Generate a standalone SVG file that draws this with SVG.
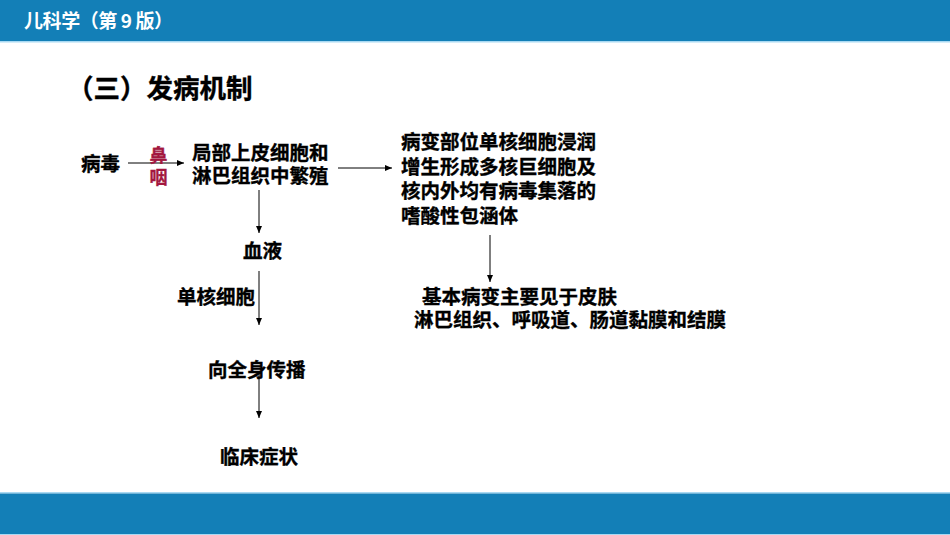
<svg xmlns="http://www.w3.org/2000/svg" width="950" height="535" viewBox="0 0 950 535">
<style>
.t{font-family:"Noto Sans CJK SC","Microsoft YaHei",sans-serif;font-weight:bold;fill:#000;stroke:#000;stroke-width:0.35}
.b{font-size:19.5px}
.red{fill:#a3173f;stroke:#a3173f;font-size:18px}
.hdr{font-family:"Noto Sans CJK SC",sans-serif;font-weight:bold;fill:#fff;font-size:19px}
.c{stroke:#000;stroke-width:1;fill:none;marker-end:url(#ah)}
</style>
<defs>
<marker id="ah" markerUnits="userSpaceOnUse" markerWidth="8" markerHeight="8" refX="7" refY="3" orient="auto">
<path d="M0,0 L7,3 L0,6 Z" fill="#000"/>
</marker>
</defs>
<rect width="950" height="535" fill="#fff"/>
<g id="header">
<rect x="0" y="0" width="950" height="41" fill="#137fb7"/>
<rect x="0" y="41" width="950" height="1.5" fill="#a9d9f2"/>
<text class="hdr" x="24" y="28" textLength="149" lengthAdjust="spacing">儿科学（第 9 版）</text>
</g>
<g id="footer">
<rect x="0" y="492" width="950" height="1.5" fill="#a9d9f2"/>
<rect x="0" y="493.5" width="950" height="40.5" fill="#137fb7"/>
<rect x="0" y="534" width="950" height="1" fill="#a9d9f2"/>
</g>
<text id="title" class="t" x="67" y="98" font-size="26.5">（三）发病机制</text>
<g id="connectors">
<path class="c" d="M128 163 H184"/>
<path class="c" d="M338 168 H392"/>
<path class="c" d="M259 190 V233"/>
<path class="c" d="M259 271 V325"/>
<path class="c" d="M259 372 V418"/>
<path class="c" d="M490 235 V282"/>
</g>
<g id="virus"><text class="t b" x="81" y="171">病毒</text></g>
<g id="nasopharynx"><text class="t red" x="149.5" y="162">鼻</text><text class="t red" x="149.5" y="184">咽</text></g>
<g id="local"><text class="t b" x="192" y="160">局部上皮细胞和</text><text class="t b" x="192" y="183">淋巴组织中繁殖</text></g>
<g id="blood"><text class="t b" x="243" y="258">血液</text></g>
<g id="monocyte"><text class="t b" x="177" y="304">单核细胞</text></g>
<g id="spread"><text class="t b" x="208" y="377">向全身传播</text></g>
<g id="symptoms"><text class="t b" x="220" y="464">临床症状</text></g>
<g id="lesion">
<text class="t b" x="401" y="149">病变部位单核细胞浸润</text>
<text class="t b" x="401" y="173.5">增生形成多核巨细胞及</text>
<text class="t b" x="401" y="198">核内外均有病毒集落的</text>
<text class="t b" x="401" y="222.5">嗜酸性包涵体</text>
</g>
<g id="basic">
<text class="t b" x="422" y="304">基本病变主要见于皮肤</text>
<text class="t b" x="414" y="327">淋巴组织、呼吸道、肠道黏膜和结膜</text>
</g>
</svg>
